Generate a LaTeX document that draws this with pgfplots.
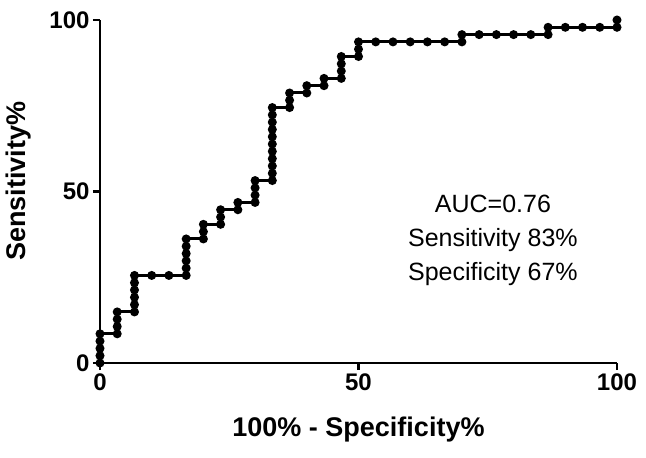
\documentclass[border=0pt]{standalone}
\usepackage{fontspec}
\setmainfont{Liberation Sans}
\usepackage{pgfplots}
\pgfplotsset{compat=1.18}

\begin{document}
\begin{tikzpicture}
\begin{axis}[
    scale only axis,
    width=517bp, height=343bp,
    xmin=0, xmax=100, ymin=0, ymax=100,
    axis lines*=left,
    axis line style={line width=2.6bp},
    xtick={0,50,100}, ytick={0,50,100},
    minor tick num=0,
    tick align=outside,
    major tick length=7bp,
    tick style={line width=2.6bp, black},
    /pgf/number format/assume math mode=true,
    ticklabel style={font=\bfseries\fontsize{24bp}{28bp}\selectfont},
    xlabel={100\% - Specificity\%},
    ylabel={Sensitivity\%},
    label style={font=\bfseries\fontsize{27bp}{32bp}\selectfont},
    xlabel style={at={(axis description cs:0.5,-0.195)}, anchor=center},
    ylabel style={at={(axis description cs:-0.158,0.53)}, anchor=center},
    clip=false,
]
\addplot[black, line width=3bp, mark=*, mark size=2.9bp] coordinates {
    (0,0) (0,2.13) (0,4.26) (0,6.38) (0,8.51)
    (3.33,8.51) (3.33,10.64) (3.33,12.77) (3.33,14.89)
    (6.67,14.89) (6.67,17.02) (6.67,19.15) (6.67,21.28) (6.67,23.40) (6.67,25.53)
    (10,25.53) (13.33,25.53) (16.67,25.53)
    (16.67,27.66) (16.67,29.79) (16.67,31.91) (16.67,34.04) (16.67,36.17)
    (20,36.17) (20,38.30) (20,40.43)
    (23.33,40.43) (23.33,42.55) (23.33,44.68)
    (26.67,44.68) (26.67,46.81)
    (30,46.81) (30,48.94) (30,51.06) (30,53.19)
    (33.33,53.19) (33.33,55.32) (33.33,57.45) (33.33,59.57) (33.33,61.70)
    (33.33,63.83) (33.33,65.96) (33.33,68.09) (33.33,70.21) (33.33,72.34) (33.33,74.47)
    (36.67,74.47) (36.67,76.60) (36.67,78.72)
    (40,78.72) (40,80.85)
    (43.33,80.85) (43.33,82.98)
    (46.67,82.98) (46.67,85.11) (46.67,87.23) (46.67,89.36)
    (50,89.36) (50,91.49) (50,93.62)
    (53.33,93.62) (56.67,93.62) (60,93.62) (63.33,93.62) (66.67,93.62) (70,93.62)
    (70,95.74)
    (73.33,95.74) (76.67,95.74) (80,95.74) (83.33,95.74) (86.67,95.74)
    (86.67,97.87)
    (90,97.87) (93.33,97.87) (96.67,97.87) (100,97.87)
    (100,100)
};
\node[align=center, font=\fontsize{25bp}{34bp}\selectfont] at (axis cs:76,35.8)
    {AUC=0.76\\Sensitivity 83\%\\Specificity 67\%};
\coordinate (o) at (rel axis cs:0,0);
\coordinate (t) at (rel axis cs:1,1);
\end{axis}
\path (o) ++(-100bp,-95bp) coordinate (a);
\path (t) ++(29bp,20bp) coordinate (b);
\path (a) rectangle (b);
\end{tikzpicture}
\end{document}
